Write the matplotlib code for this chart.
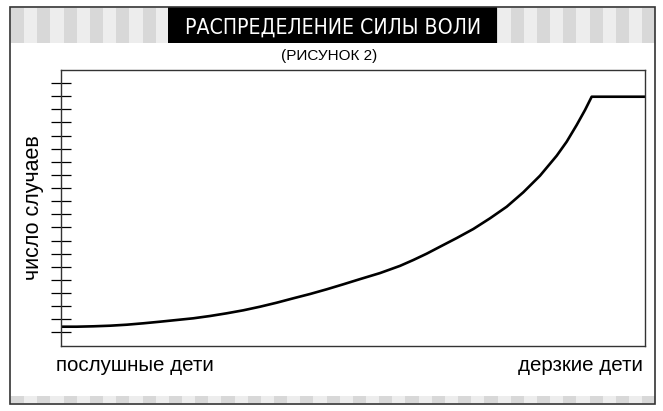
import numpy as np
import matplotlib.pyplot as plt
from matplotlib.patches import Rectangle

# curve: x in % of the axis width, y in tick units
x_pos = [0, 2.69, 5.53, 8.39, 11.25, 14.09, 16.95, 19.81, 22.65, 25.51, 28.37,
         31.22, 34.08, 36.93, 39.78, 42.64, 45.50, 48.34, 51.20, 54.62, 58.05,
         60.33, 62.62, 64.90, 67.76, 70.60, 73.46, 76.32, 79.16, 82.02, 84.88,
         86.59, 88.30, 89.73, 90.87, 100]
y_val = [1.433, 1.433, 1.463, 1.509, 1.585, 1.692, 1.814, 1.944, 2.073, 2.248,
         2.454, 2.683, 2.957, 3.262, 3.598, 3.925, 4.284, 4.665, 5.06, 5.52,
         6.07, 6.517, 7.0, 7.53, 8.19, 8.88, 9.695, 10.579, 11.677,
         12.942, 14.466, 15.534, 16.806, 17.950, 18.963, 18.963]
y_ticks = list(range(1, 21))

title = "РАСПРЕДЕЛЕНИЕ СИЛЫ ВОЛИ"
subtitle = "(РИСУНОК 2)"
y_label = "число случаев"
x_left_label = "послушные дети"
x_right_label = "дерзкие дети"

W, H = 663, 411
fig = plt.figure(figsize=(W / 100, H / 100), dpi=100)
fig.patch.set_facecolor("white")

# background layer in pixel coordinates for the frame and stripes
bg = fig.add_axes([0, 0, 1, 1], zorder=0)
bg.set_xlim(0, W)
bg.set_ylim(H, 0)
bg.axis("off")

light, dark = "#ededed", "#d8d8d8"
for y0, y1 in [(8.3, 43.0), (395.7, 402.7)]:
    bg.add_patch(Rectangle((10, y0), 645, y1 - y0, fc=light, ec="none"))
    for x0 in np.arange(11, 655, 26.3):
        w = min(13.15, 655 - x0)
        bg.add_patch(Rectangle((x0, y0), w, y1 - y0, fc=dark, ec="none"))

bg.add_patch(Rectangle((168, 7.5), 329.3, 35.5, fc="black", ec="none"))
bg.add_patch(Rectangle((10, 7.5), 645, 396.5, fill=False, ec="#333333", lw=1.2))

sans = ["Liberation Sans", "DejaVu Sans"]
bg.text(333, 33.3, title, color="white", ha="center", va="baseline",
        fontsize=15.2, family=["Liberation Sans Narrow", "DejaVu Sans"],
        fontstretch="condensed")
bg.text(329, 56, subtitle, ha="center", va="center", fontsize=11, family=sans)
bg.text(33, 207.5, y_label, rotation=90, ha="center", va="center",
        fontsize=15.5, family=sans)
bg.text(56, 370.5, x_left_label, ha="left", va="baseline", fontsize=14.8, family=sans)
bg.text(643, 370.5, x_right_label, ha="right", va="baseline", fontsize=14.8, family=sans)

# main plot
ax = fig.add_axes([61 / W, 1 - 345.5 / H, 584 / W, 275.5 / H], zorder=1)
ax.plot(x_pos, y_val, color="black", lw=1.9, solid_capstyle="butt",
        solid_joinstyle="round")
ax.set_xlim(0, 100)
ax.set_ylim(0, 21)
ax.set_xticks([])
ax.set_yticks(y_ticks)
ax.set_yticklabels([])
ax.tick_params(axis="y", direction="inout", length=14, width=0.9, color="black")
for s in ax.spines.values():
    s.set_color("#333333")
    s.set_linewidth(1.0)

fig.savefig("out.png", dpi=100)
